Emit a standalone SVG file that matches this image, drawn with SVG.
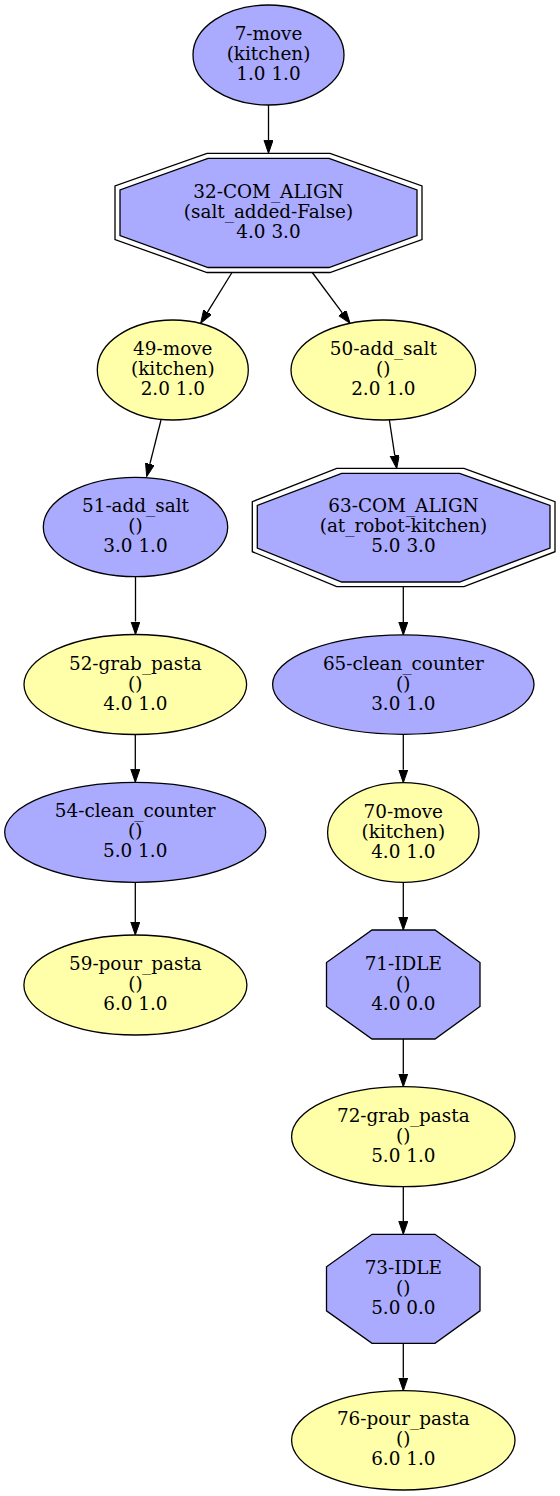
<svg xmlns="http://www.w3.org/2000/svg" width="560" height="1496" viewBox="0 0 560 1496">
<defs>
<style>
.b{fill:#aaaaff;stroke:#000;stroke-width:1.3}
.y{fill:#ffffaa;stroke:#000;stroke-width:1.3}
.o{fill:none;stroke:#000;stroke-width:1.3}
.e{fill:none;stroke:#000;stroke-width:1.3}
text{font-family:"DejaVu Serif","Liberation Serif",serif;font-size:18.4px;text-anchor:middle;fill:#000}
</style>
<marker id="ah" markerUnits="userSpaceOnUse" markerWidth="14" markerHeight="10" refX="0" refY="4.5" orient="auto" viewBox="0 0 14 10">
<path d="M0,0 L13,4.5 L0,9 Z" fill="#000" stroke="#000" stroke-width="1"/>
</marker>
</defs>
<rect width="560" height="1496" fill="#fff"/>
<g id="edges">
<line class="e" x1="268.5" y1="105" x2="268.5" y2="140.3" marker-end="url(#ah)"/>
<line class="e" x1="232" y1="272.5" x2="207.5" y2="312.2" marker-end="url(#ah)"/>
<line class="e" x1="312.3" y1="272.5" x2="342.3" y2="312.9" marker-end="url(#ah)"/>
<line class="e" x1="161" y1="420" x2="149.9" y2="463.9" marker-end="url(#ah)"/>
<line class="e" x1="389.3" y1="419.5" x2="394.8" y2="455.6" marker-end="url(#ah)"/>
<line class="e" x1="135.5" y1="576.7" x2="135.5" y2="621.5" marker-end="url(#ah)"/>
<line class="e" x1="403.3" y1="587" x2="403.3" y2="622" marker-end="url(#ah)"/>
<line class="e" x1="135.3" y1="734.5" x2="135.3" y2="769.3" marker-end="url(#ah)"/>
<line class="e" x1="403.3" y1="734.3" x2="403.3" y2="769.7" marker-end="url(#ah)"/>
<line class="e" x1="135.3" y1="882.3" x2="135.3" y2="922" marker-end="url(#ah)"/>
<line class="e" x1="403.3" y1="882.3" x2="403.3" y2="917" marker-end="url(#ah)"/>
<line class="e" x1="403.3" y1="1039" x2="403.3" y2="1073.7" marker-end="url(#ah)"/>
<line class="e" x1="403.3" y1="1186.7" x2="403.3" y2="1221.3" marker-end="url(#ah)"/>
<line class="e" x1="403.3" y1="1343.3" x2="403.3" y2="1377.7" marker-end="url(#ah)"/>
</g>
<g id="n7">
<ellipse class="b" cx="268.5" cy="55" rx="75.5" ry="50"/>
<text x="268.5" y="40">7-move</text>
<text x="268.5" y="60">(kitchen)</text>
<text x="268.5" y="80">1.0 1.0</text>
</g>
<g id="n32">
<polygon class="o" points="207,153.3 330,153.3 422,186 422,239.5 330,272.5 207,272.5 115,239.5 115,186"/>
<polygon class="b" points="208,158.3 329,158.3 417,190 417,235.5 329,267.5 208,267.5 120,235.5 120,190"/>
<text x="268.5" y="198">32-COM_ALIGN</text>
<text x="268.5" y="218">(salt_added-False)</text>
<text x="268.5" y="238">4.0 3.0</text>
</g>
<g id="n49">
<ellipse class="y" cx="172.8" cy="370" rx="75.5" ry="50"/>
<text x="172.8" y="355">49-move</text>
<text x="172.8" y="375">(kitchen)</text>
<text x="172.8" y="395">2.0 1.0</text>
</g>
<g id="n50">
<ellipse class="y" cx="383.3" cy="370" rx="92.3" ry="50"/>
<text x="383.3" y="355">50-add_salt</text>
<text x="383.3" y="375">()</text>
<text x="383.3" y="395">2.0 1.0</text>
</g>
<g id="n51">
<ellipse class="b" cx="135.5" cy="527" rx="92.2" ry="49.7"/>
<text x="135.5" y="512">51-add_salt</text>
<text x="135.5" y="532">()</text>
<text x="135.5" y="552">3.0 1.0</text>
</g>
<g id="n63">
<polygon class="o" points="336.7,468.3 464,468.3 555,501.7 555,551.7 464,586.7 336.7,586.7 252.3,551.7 252.3,501.7"/>
<polygon class="b" points="341.7,473.3 459.5,473.3 550,505.5 550,548 459.5,582 341.7,582 257.3,548 257.3,505.5"/>
<text x="403.5" y="512">63-COM_ALIGN</text>
<text x="403.5" y="532">(at_robot-kitchen)</text>
<text x="403.5" y="552">5.0 3.0</text>
</g>
<g id="n52">
<ellipse class="y" cx="135.3" cy="684.5" rx="111.3" ry="50"/>
<text x="135.3" y="669.5">52-grab_pasta</text>
<text x="135.3" y="689.5">()</text>
<text x="135.3" y="709.5">4.0 1.0</text>
</g>
<g id="n65">
<ellipse class="b" cx="403.3" cy="684.6" rx="130.7" ry="49.7"/>
<text x="403.3" y="669.6">65-clean_counter</text>
<text x="403.3" y="689.6">()</text>
<text x="403.3" y="709.6">3.0 1.0</text>
</g>
<g id="n54">
<ellipse class="b" cx="135.2" cy="832.3" rx="130.5" ry="50"/>
<text x="135.2" y="817.3">54-clean_counter</text>
<text x="135.2" y="837.3">()</text>
<text x="135.2" y="857.3">5.0 1.0</text>
</g>
<g id="n70">
<ellipse class="y" cx="403.3" cy="832.5" rx="75.7" ry="49.8"/>
<text x="403.3" y="817.5">70-move</text>
<text x="403.3" y="837.5">(kitchen)</text>
<text x="403.3" y="857.5">4.0 1.0</text>
</g>
<g id="n59">
<ellipse class="y" cx="135.4" cy="985" rx="111.5" ry="50"/>
<text x="135.4" y="970">59-pour_pasta</text>
<text x="135.4" y="990">()</text>
<text x="135.4" y="1010">6.0 1.0</text>
</g>
<g id="n71">
<polygon class="b" points="372,930 435,930 480,962.5 480,1006.5 435,1039 372,1039 326.5,1006.5 326.5,962.5"/>
<text x="403.3" y="970">71-IDLE</text>
<text x="403.3" y="990">()</text>
<text x="403.3" y="1010">4.0 0.0</text>
</g>
<g id="n72">
<ellipse class="y" cx="403.3" cy="1136.7" rx="111.7" ry="50"/>
<text x="403.3" y="1121.7">72-grab_pasta</text>
<text x="403.3" y="1141.7">()</text>
<text x="403.3" y="1161.7">5.0 1.0</text>
</g>
<g id="n73">
<polygon class="b" points="372,1234.3 435,1234.3 480,1266.8 480,1310.8 435,1343.3 372,1343.3 326.5,1310.8 326.5,1266.8"/>
<text x="403.3" y="1274">73-IDLE</text>
<text x="403.3" y="1294">()</text>
<text x="403.3" y="1314">5.0 0.0</text>
</g>
<g id="n76">
<ellipse class="y" cx="403.3" cy="1440.3" rx="111.7" ry="49.7"/>
<text x="403.3" y="1425.3">76-pour_pasta</text>
<text x="403.3" y="1445.3">()</text>
<text x="403.3" y="1465.3">6.0 1.0</text>
</g>
</svg>
